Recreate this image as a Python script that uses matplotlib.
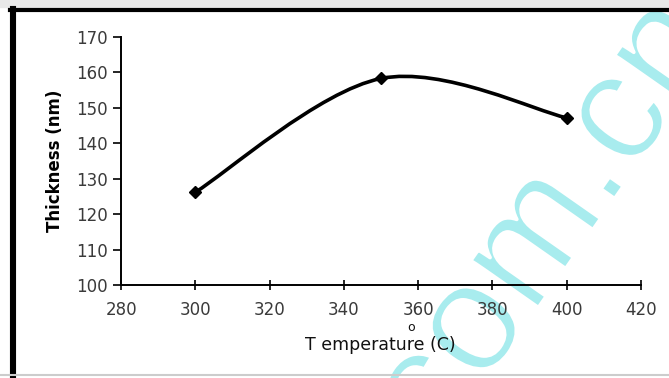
import numpy as np
import matplotlib.pyplot as plt
from matplotlib.path import Path
from matplotlib.patches import PathPatch
import matplotlib.lines as mlines
import matplotlib.patheffects as pe

plt.rcParams['font.family'] = ['DejaVu Sans']

# data
temperature = [300, 350, 400]
thickness = [126.2, 158.3, 147.2]
x_ticks = [280, 300, 320, 340, 360, 380, 400, 420]
y_ticks = [100, 110, 120, 130, 140, 150, 160, 170]

fig = plt.figure(figsize=(6.69, 3.78), dpi=100)
ax = fig.add_axes([0.181, 0.246, 0.777, 0.656])
ax.set_facecolor('none')

# smoothed line like the spreadsheet one (bezier through the points)
pts = np.column_stack([temperature, thickness])
verts = [tuple(pts[0])]
codes = [Path.MOVETO]
n = len(pts)
for i in range(n - 1):
    p_prev = pts[max(i - 1, 0)]
    p0 = pts[i]
    p1 = pts[i + 1]
    p_next = pts[min(i + 2, n - 1)]
    c1 = p0 + (p1 - p_prev) / 6.0
    c2 = p1 - (p_next - p0) / 6.0
    verts += [tuple(c1), tuple(c2), tuple(p1)]
    codes += [Path.CURVE4] * 3
ax.add_patch(PathPatch(Path(verts, codes), facecolor='none', edgecolor='black', lw=2.6,
                       capstyle='round', joinstyle='round'))
ax.plot(temperature, thickness, linestyle='none', marker='D', ms=6.5, color='black')

ax.set_xlim(280, 420)
ax.set_ylim(100, 170)
ax.set_xticks(x_ticks)
ax.set_yticks(y_ticks)
for s in ['top', 'right']:
    ax.spines[s].set_visible(False)
for s in ['left', 'bottom']:
    ax.spines[s].set_linewidth(1.4)
ax.tick_params(axis='y', direction='out', length=6, width=1.2, pad=3.5, labelsize=12,
               colors='black', labelcolor='#3a3a3a')
ax.tick_params(axis='x', direction='inout', length=7, width=1.2, pad=8, labelsize=12,
               colors='black', labelcolor='#3a3a3a')

ax.set_ylabel('Thickness (nm)', fontsize=12, fontweight='bold', labelpad=9)
fig.text(0.568, 0.087, 'T emperature (C)', ha='center', va='center', fontsize=12.5,
         color='#111111')
fig.text(0.614, 0.134, 'o', ha='center', va='center', fontsize=9, color='#111111')

# outer frame of the scanned figure
fig.add_artist(mlines.Line2D([0.0, 1.0], [0.99, 0.99], color='#e8e8e8', lw=6,
                             transform=fig.transFigure))
fig.add_artist(mlines.Line2D([0.0194, 0.0194], [0.0, 0.977], color='black', lw=4.4,
                             transform=fig.transFigure))
fig.add_artist(mlines.Line2D([0.015, 1.0], [0.9735, 0.9735], color='black', lw=3,
                             transform=fig.transFigure))
fig.add_artist(mlines.Line2D([0.0, 1.0], [0.007, 0.007], color='#cccccc', lw=1.5,
                             transform=fig.transFigure))

# watermark, behind the chart (white outline thins the strokes)
fig.text(0.820, 0.412, 'com.cn', color='#a8ecee', fontsize=112, rotation=55,
         ha='center', va='center', family='Liberation Sans', zorder=-1,
         path_effects=[pe.Normal(), pe.Stroke(linewidth=2.5, foreground='white')])

fig.savefig('out.png', dpi=100)
